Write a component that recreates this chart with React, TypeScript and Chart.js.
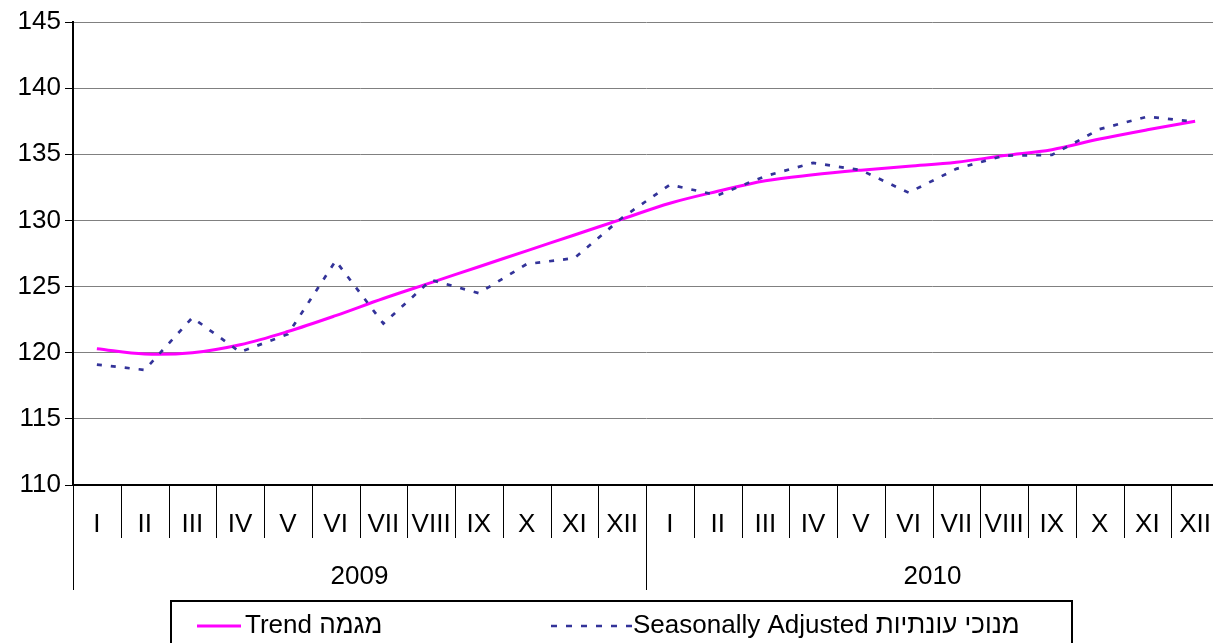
import React, { useEffect, useRef } from 'react';
import { Chart, registerables } from 'chart.js';

Chart.register(...registerables);

const MONTHS = ['I', 'II', 'III', 'IV', 'V', 'VI', 'VII', 'VIII', 'IX', 'X', 'XI', 'XII'];
const categories = [...MONTHS, ...MONTHS];
const years = ['2009', '2010'];

const trendValues = [
  120.3, 119.9, 120.0, 120.6, 121.6, 122.8, 124.1, 125.3, 126.5, 127.7, 128.9, 130.1,
  131.3, 132.2, 133.0, 133.45, 133.8, 134.1, 134.4, 134.9, 135.35, 136.15, 136.85, 137.5,
];

const saValues = [
  119.1, 118.7, 122.65, 120.05, 121.4, 126.95, 122.2, 125.5, 124.5, 126.7, 127.15, 130.2,
  132.7, 131.9, 133.35, 134.35, 133.8, 132.1, 133.9, 134.9, 134.95, 136.9, 137.85, 137.45,
];

const yMin = 110;
const yMax = 145;
const yStep = 5;

const legendLabels = ['Trend מגמה', 'Seasonally Adjusted מנוכי עונתיות'];

const FONT = '"Liberation Sans", Arial, sans-serif';
const TREND_COLOR = '#FF00FF';
const SA_COLOR = '#333399';

const W = 1213;
const H = 643;
const CANVAS_W = 1219;

const decorPlugin = {
  id: 'decor',
  afterDraw(chart: any) {
    const ctx = chart.ctx as CanvasRenderingContext2D;
    const x = chart.scales.x;
    const n = categories.length;
    const step = (x.right - x.left) / n;
    const axisY = chart.chartArea.bottom;
    ctx.save();
    // separators
    ctx.strokeStyle = '#000';
    ctx.lineWidth = 1;
    for (let i = 0; i <= n; i++) {
      const px = Math.round(x.left + i * step) + 0.5;
      const isGroup = i % 12 === 0;
      ctx.beginPath();
      ctx.moveTo(px, axisY);
      ctx.lineTo(px, axisY + (isGroup ? 105 : 53));
      ctx.stroke();
    }
    // year labels
    ctx.fillStyle = '#000';
    ctx.font = `26px ${FONT}`;
    ctx.textAlign = 'center';
    ctx.textBaseline = 'middle';
    years.forEach((yr, g) => {
      const cx = x.left + (g * 12 + 6) * step;
      ctx.fillText(yr, cx, 577);
    });
    // legend box
    ctx.lineWidth = 2;
    ctx.strokeStyle = '#000';
    ctx.strokeRect(171, 601, 901, 60);
    // trend sample
    ctx.strokeStyle = TREND_COLOR;
    ctx.lineWidth = 3;
    ctx.beginPath();
    ctx.moveTo(197, 626);
    ctx.lineTo(241, 626);
    ctx.stroke();
    ctx.textAlign = 'left';
    ctx.font = `26px ${FONT}`;
    ctx.fillText(legendLabels[0], 245, 626);
    // SA sample
    ctx.strokeStyle = SA_COLOR;
    ctx.lineWidth = 2.7;
    ctx.setLineDash([6, 9]);
    ctx.beginPath();
    ctx.moveTo(551, 626);
    ctx.lineTo(632, 626);
    ctx.stroke();
    ctx.setLineDash([]);
    ctx.fillText(legendLabels[1], 633, 626);
    ctx.restore();
  },
};

export default function App() {
  const canvasRef = useRef<HTMLCanvasElement | null>(null);

  useEffect(() => {
    const canvas = canvasRef.current;
    if (!canvas) return;
    const chart = new Chart(canvas, {
      type: 'line',
      data: {
        labels: categories,
        datasets: [
          {
            label: legendLabels[1],
            data: saValues,
            borderColor: SA_COLOR,
            borderWidth: 2.7,
            borderDash: [5, 9],
            pointRadius: 0,
            tension: 0,
            fill: false,
            order: 0,
          },
          {
            label: legendLabels[0],
            data: trendValues,
            borderColor: TREND_COLOR,
            borderWidth: 3,
            pointRadius: 0,
            tension: 0.35,
            fill: false,
            order: 1,
          },
        ],
      },
      options: {
        animation: false,
        responsive: false,
        devicePixelRatio: 1,
        layout: { padding: { top: 22, left: 0, right: 0, bottom: 0 } },
        plugins: {
          legend: { display: false },
          tooltip: { enabled: false },
        },
        scales: {
          x: {
            type: 'category',
            offset: true,
            grid: { display: false },
            border: { display: true, color: '#000', width: 2 },
            ticks: {
              autoSkip: false,
              maxRotation: 0,
              minRotation: 0,
              color: '#000',
              padding: 16,
              font: { family: FONT, size: 26 },
            },
            afterFit: (s: any) => {
              s.height = 158;
              s.paddingLeft = 0;
              s.paddingRight = 0;
            },
          },
          y: {
            min: yMin,
            max: yMax,
            ticks: {
              stepSize: yStep,
              color: '#000',
              padding: 4,
              font: { family: FONT, size: 26 },
            },
            grid: {
              color: '#808080',
              lineWidth: 1,
              tickColor: '#000',
              tickLength: 8,
              drawTicks: true,
            },
            border: { display: true, color: '#000', width: 2 },
            afterFit: (s: any) => {
              s.width = 73;
              s.paddingTop = 0;
              s.paddingBottom = 0;
            },
          },
        },
      },
      plugins: [decorPlugin],
    });
    return () => chart.destroy();
  }, []);

  return (
    <div style={{ position: 'absolute', left: 0, top: 0, width: W, height: H, background: '#fff', overflow: 'hidden' }}>
      <canvas ref={canvasRef} width={CANVAS_W} height={H} style={{ display: 'block', width: CANVAS_W, height: H }} />
    </div>
  );
}
